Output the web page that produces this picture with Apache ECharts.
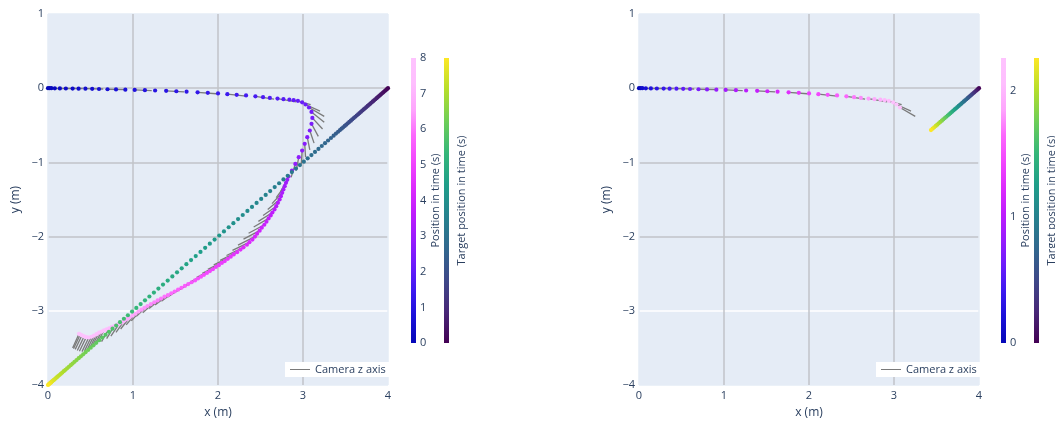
<!DOCTYPE html>
<html>
<head>
<meta charset="utf-8">
<script src="https://cdn.jsdelivr.net/npm/echarts@6/dist/echarts.min.js"></script>
<style>
  html, body { margin: 0; padding: 0; background: #fff; }
  #chart { width: 1055px; height: 421px; }
</style>
</head>
<body>
<div id="chart"></div>
<script>
// camera trajectory samples (time in s, position in m)
var posT = [
  0.00, 0.06, 0.13, 0.19, 0.25, 0.31, 0.38, 0.44, 0.50, 0.57,
  0.63, 0.69, 0.75, 0.82, 0.88, 0.94, 1.00, 1.07, 1.13, 1.19,
  1.26, 1.32, 1.38, 1.44, 1.51, 1.57, 1.63, 1.70, 1.76, 1.82,
  1.88, 1.95, 2.01, 2.07, 2.14, 2.20, 2.26, 2.32, 2.39, 2.45,
  2.51, 2.57, 2.64, 2.70, 2.76, 2.83, 2.89, 2.95, 3.01, 3.08,
  3.14, 3.20, 3.27, 3.33, 3.39, 3.45, 3.52, 3.58, 3.64, 3.71,
  3.77, 3.83, 3.89, 3.96, 4.02, 4.08, 4.14, 4.21, 4.27, 4.33,
  4.40, 4.46, 4.52, 4.58, 4.65, 4.71, 4.77, 4.84, 4.90, 4.96,
  5.02, 5.09, 5.15, 5.21, 5.28, 5.34, 5.40, 5.46, 5.53, 5.59,
  5.65, 5.71, 5.78, 5.84, 5.90, 5.97, 6.03, 6.09, 6.15, 6.22,
  6.28, 6.34, 6.41, 6.47, 6.53, 6.59, 6.66, 6.72, 6.78, 6.85,
  6.91, 6.97, 7.03, 7.10, 7.16, 7.22, 7.28, 7.35, 7.41, 7.47,
  7.54, 7.60, 7.66, 7.72, 7.79, 7.85, 7.91, 7.98
];
var posX = [
  0, 0.02, 0.04, 0.08, 0.14, 0.21, 0.29, 0.36, 0.44, 0.52,
  0.60, 0.70, 0.80, 0.91, 1.02, 1.14, 1.26, 1.39, 1.51, 1.63,
  1.76, 1.88, 2.00, 2.11, 2.22, 2.33, 2.44, 2.53, 2.61, 2.70,
  2.77, 2.84, 2.89, 2.94, 2.99, 3.03, 3.07,
  3.10, 3.11, 3.10, 3.08, 3.05, 3.02, 2.99, 2.95, 2.91, 2.87, 2.83,
  2.815, 2.80, 2.785, 2.77, 2.755, 2.74, 2.725, 2.705, 2.685, 2.665,
  2.64, 2.62, 2.595, 2.57, 2.545, 2.515, 2.49, 2.46, 2.435, 2.405,
  2.37, 2.34, 2.30, 2.265, 2.225, 2.185,
  2.15, 2.115, 2.08, 2.045, 2.01, 1.975, 1.94, 1.905, 1.87, 1.835,
  1.80, 1.765, 1.73, 1.69, 1.65, 1.61, 1.57, 1.53, 1.49, 1.45,
  1.41, 1.37, 1.33, 1.29, 1.25, 1.21, 1.17, 1.135, 1.10, 1.065,
  1.03, 0.995,
  0.96, 0.93, 0.90, 0.87, 0.84, 0.81, 0.78, 0.75, 0.72, 0.69,
  0.66, 0.63, 0.60, 0.57, 0.54, 0.51, 0.48, 0.45, 0.425, 0.40,
  0.38, 0.365
];
var posY = [
  0, 0, 0, -0.002, -0.003, -0.004, -0.005, -0.006, -0.007, -0.009,
  -0.011, -0.014, -0.017, -0.020, -0.023, -0.027, -0.031, -0.036, -0.041, -0.047,
  -0.055, -0.063, -0.071, -0.080, -0.089, -0.098, -0.110, -0.121, -0.131, -0.140,
  -0.148, -0.155, -0.162, -0.170, -0.190, -0.220, -0.260,
  -0.32, -0.40, -0.48, -0.57, -0.66, -0.75, -0.84, -0.93, -1.02, -1.11, -1.19,
  -1.235, -1.275, -1.32, -1.365, -1.41, -1.455, -1.50, -1.545, -1.59, -1.635,
  -1.675, -1.715, -1.755, -1.80, -1.84, -1.88, -1.92, -1.96, -2.00, -2.04,
  -2.075, -2.11, -2.145, -2.175, -2.21, -2.24,
  -2.27, -2.30, -2.33, -2.355, -2.385, -2.41, -2.44, -2.465, -2.49, -2.515,
  -2.54, -2.565, -2.59, -2.615, -2.64, -2.665, -2.69, -2.715, -2.74, -2.765,
  -2.79, -2.81, -2.835, -2.86, -2.885, -2.91, -2.935, -2.96, -2.985, -3.01,
  -3.04, -3.065,
  -3.09, -3.11, -3.13, -3.155, -3.17, -3.19, -3.205, -3.22, -3.235, -3.25,
  -3.265, -3.28, -3.295, -3.315, -3.335, -3.35, -3.36, -3.355, -3.345, -3.33,
  -3.32, -3.31
];

// camera z axis (projected on xy), given for some samples
var camIdx = [2, 5, 8, 11, 14, 17, 20, 23, 26, 29, 32,
  35, 36, 37, 38, 39, 40, 41, 42, 43, 44, 45,
  48, 50, 52, 54, 56, 58, 60, 62, 64, 66, 68, 70, 72, 74, 76, 78, 80, 82, 84, 86, 88, 90, 92, 94, 96, 98, 100, 102, 104,
  106, 108, 110, 112, 114, 116, 117, 118, 119, 120, 121, 122, 123, 124, 125, 126, 127];
var camDX = [0.16, 0.20, 0.21, 0.21, 0.20, 0.21, 0.22, 0.22, 0.22, 0.22, 0.20,
  0.17, 0.18, 0.15, 0.12, 0.08, 0.05, 0.03, 0.01, -0.01, -0.03, -0.05,
  -0.08, -0.10, -0.12, -0.14, -0.155, -0.165, -0.175, -0.185, -0.19, -0.20, -0.20, -0.20, -0.20, -0.20, -0.20, -0.195, -0.19, -0.185, -0.18, -0.175, -0.17, -0.16, -0.155, -0.15, -0.14, -0.135, -0.13, -0.12, -0.11,
  -0.105, -0.10, -0.10, -0.09, -0.09, -0.09, -0.085, -0.085, -0.08, -0.08, -0.08, -0.08, -0.08, -0.08, -0.08, -0.08, -0.075];
var camDY = [0, -0.002, -0.004, -0.006, -0.010, -0.014, -0.020, -0.028, -0.036, -0.045, -0.060,
  -0.09, -0.12, -0.14, -0.15, -0.17, -0.17, -0.17, -0.18, -0.18, -0.18, -0.18,
  -0.16, -0.155, -0.145, -0.135, -0.125, -0.12, -0.115, -0.115, -0.115, -0.115, -0.11, -0.11, -0.11, -0.11, -0.11, -0.11, -0.11, -0.115, -0.115, -0.12, -0.12, -0.125, -0.13, -0.13, -0.135, -0.14, -0.14, -0.15, -0.15,
  -0.155, -0.16, -0.17, -0.17, -0.18, -0.18, -0.185, -0.19, -0.19, -0.19, -0.19, -0.19, -0.19, -0.19, -0.19, -0.19, -0.19];

// target position, same sample times as posT
var tgtX = [
  4.000, 3.987, 3.975, 3.962, 3.948, 3.935, 3.921, 3.908, 3.894, 3.880,
  3.866, 3.851, 3.837, 3.822, 3.807, 3.792, 3.777, 3.761, 3.746, 3.730,
  3.714, 3.698, 3.682, 3.665, 3.649, 3.632, 3.615, 3.597, 3.580, 3.563,
  3.545, 3.527, 3.509, 3.491, 3.473, 3.454, 3.435,
  3.413, 3.388, 3.360, 3.329, 3.295, 3.259, 3.221, 3.182, 3.141, 3.099,
  3.055, 3.010, 2.964, 2.917, 2.869, 2.820, 2.770, 2.719, 2.667, 2.614,
  2.561, 2.508, 2.454, 2.400, 2.346, 2.291, 2.236, 2.181, 2.126, 2.070,
  2.015, 1.960, 1.904, 1.849, 1.794, 1.738, 1.683, 1.628, 1.573, 1.518,
  1.463, 1.408, 1.353, 1.299, 1.246, 1.193, 1.141, 1.090, 1.039, 0.989,
  0.940, 0.893, 0.847, 0.802, 0.759, 0.717, 0.677, 0.639, 0.603, 0.568,
  0.535, 0.503, 0.472, 0.442, 0.414, 0.387, 0.361, 0.336, 0.312, 0.289,
  0.267, 0.246, 0.225, 0.205, 0.186, 0.168, 0.151, 0.135, 0.120, 0.106,
  0.093, 0.081, 0.069, 0.059, 0.049, 0.040, 0.032, 0.024, 0.016, 0.008,
  0.000
];
var tgtY = [
  0.000, -0.013, -0.025, -0.038, -0.052, -0.065, -0.079, -0.092, -0.106, -0.120,
  -0.134, -0.149, -0.163, -0.178, -0.193, -0.208, -0.223, -0.239, -0.254, -0.270,
  -0.286, -0.302, -0.318, -0.335, -0.351, -0.368, -0.385, -0.403, -0.420, -0.437,
  -0.455, -0.473, -0.491, -0.509, -0.527, -0.546, -0.565,
  -0.587, -0.612, -0.640, -0.671, -0.705, -0.741, -0.779, -0.818, -0.859, -0.901,
  -0.945, -0.990, -1.036, -1.083, -1.131, -1.180, -1.230, -1.281, -1.333, -1.386,
  -1.439, -1.492, -1.546, -1.600, -1.654, -1.709, -1.764, -1.819, -1.874, -1.930,
  -1.985, -2.040, -2.096, -2.151, -2.206, -2.262, -2.317, -2.372, -2.427, -2.482,
  -2.537, -2.592, -2.647, -2.701, -2.754, -2.807, -2.859, -2.910, -2.961, -3.011,
  -3.060, -3.107, -3.153, -3.198, -3.241, -3.283, -3.323, -3.361, -3.397, -3.432,
  -3.465, -3.497, -3.528, -3.558, -3.586, -3.613, -3.639, -3.664, -3.688, -3.711,
  -3.733, -3.754, -3.775, -3.795, -3.814, -3.832, -3.849, -3.865, -3.880, -3.894,
  -3.907, -3.919, -3.931, -3.941, -3.951, -3.960, -3.968, -3.976, -3.984, -3.992,
  -4.000
];

var xTicks = [0, 1, 2, 3, 4];
var yTicks = [-4, -3, -2, -1, 0, 1];
var leftTMax = 8;      // full run
var rightTMax = 2.26;  // truncated run

var PLOTLY3 = ['#0508b8', '#1910d8', '#3c19f0', '#6b1cfb', '#981cfd', '#bf1cfd',
  '#dd2bfd', '#f246fe', '#fc67fd', '#fea5fd', '#febefe', '#fec3fe'];
var VIRIDIS = ['#440154', '#482878', '#3e4989', '#31688e', '#26828e', '#1f9e89',
  '#35b779', '#6ece58', '#b5de2b', '#fde725'];

var FONT = 'Open Sans';
var TXT = '#2a3f5f';
var BG = '#e5ecf6';
var GRAY = '#c0c3c8';
var CAM_GRAY = '#7a7a7a';

function trajRows(tMax) {
  var out = [];
  for (var i = 0; i < posT.length; i++) {
    if (posT[i] <= tMax) out.push([posX[i], posY[i], posT[i]]);
  }
  return out;
}
function targetRows(tMax) {
  var out = [];
  for (var i = 0; i < posT.length; i++) {
    if (posT[i] <= tMax) out.push([tgtX[i], tgtY[i], posT[i]]);
  }
  return out;
}
function camLines(tMax) {
  var out = [];
  camIdx.forEach(function (k, j) {
    if (posT[k] > tMax) return;
    out.push({ coords: [[posX[k], posY[k]], [posX[k] + camDX[j], posY[k] + camDY[j]]] });
  });
  return out;
}
function minus(v) { return v < 0 ? '\u2212' + Math.abs(v) : String(v); }
function gradient(colors) {
  var stops = colors.map(function (c, i) { return { offset: i / (colors.length - 1), color: c }; });
  return new echarts.graphic.LinearGradient(0, 1, 0, 0, stops);
}

var plotLefts = [48, 639];
var barLefts = [411, 444, 1001, 1034];

// fixed boxes, no auto shrinking to fit labels
var grids = [];
plotLefts.forEach(function (l) {
  grids.push({ left: l, top: 14, width: 340, height: 371, show: true, backgroundColor: BG, borderWidth: 0, outerBoundsMode: 'none', containLabel: false });
});
barLefts.forEach(function (l) {
  grids.push({ left: l, top: 58, width: 5, height: 285, outerBoundsMode: 'none', containLabel: false });
});

var xAxes = [], yAxes = [];
[0, 1].forEach(function (g) {
  xAxes.push({
    type: 'value', gridIndex: g, min: xTicks[0], max: xTicks[xTicks.length - 1], interval: 1,
    name: 'x (m)', nameLocation: 'middle', nameGap: 22,
    nameTextStyle: { fontFamily: FONT, fontSize: 12, color: TXT },
    axisLine: { show: false }, axisTick: { show: false },
    axisLabel: { fontFamily: FONT, fontSize: 11, color: TXT, margin: 5, formatter: minus },
    splitLine: { show: true, lineStyle: { width: 1.5, color: [BG, GRAY, GRAY, GRAY, BG] } }
  });
  yAxes.push({
    type: 'value', gridIndex: g, min: yTicks[0], max: yTicks[yTicks.length - 1], interval: 1,
    name: 'y (m)', nameLocation: 'middle', nameGap: 26,
    nameTextStyle: { fontFamily: FONT, fontSize: 12, color: TXT },
    axisLine: { show: false }, axisTick: { show: false },
    axisLabel: { fontFamily: FONT, fontSize: 11, color: TXT, margin: 4, formatter: minus },
    splitLine: { show: true, lineStyle: { width: 1.5, color: [BG, '#ffffff', GRAY, GRAY, GRAY, BG] } }
  });
});

// colorbars: position (with ticks) and target (no ticks) for each panel
var bars = [
  { max: leftTMax, colors: PLOTLY3, title: 'Position in time (s)', ticks: true },
  { max: leftTMax, colors: VIRIDIS, title: 'Target position in time (s)', ticks: false },
  { max: rightTMax, colors: PLOTLY3, title: 'Position in time (s)', ticks: true },
  { max: rightTMax, colors: VIRIDIS, title: 'Target position in time (s)', ticks: false }
];
var barSeries = [];
bars.forEach(function (b, k) {
  var g = k + 2;
  xAxes.push({ type: 'category', gridIndex: g, data: ['c'], show: false });
  yAxes.push({
    type: 'value', gridIndex: g, min: 0, max: b.max, interval: 1, position: 'right',
    name: b.title, nameLocation: 'middle', nameRotate: 90, nameGap: b.ticks ? 10 : 7,
    nameTextStyle: { fontFamily: FONT, fontSize: 11, color: TXT },
    axisLine: { show: false }, axisTick: { show: false }, splitLine: { show: false },
    axisLabel: { show: b.ticks, showMaxLabel: b.max % 1 === 0, fontFamily: FONT, fontSize: 11, color: TXT, margin: 4 }
  });
  barSeries.push({
    type: 'bar', xAxisIndex: g, yAxisIndex: g, data: [b.max], barWidth: '100%',
    silent: true, itemStyle: { color: gradient(b.colors) }
  });
});

function camSeries(g, tMax) {
  return {
    name: 'Camera z axis', type: 'lines', coordinateSystem: 'cartesian2d',
    xAxisIndex: g, yAxisIndex: g, data: camLines(tMax), z: 2, silent: true,
    lineStyle: { color: CAM_GRAY, width: 1.3, opacity: 1 }
  };
}
function dotSeries(name, g, rows, z) {
  return {
    name: name, type: 'scatter', xAxisIndex: g, yAxisIndex: g, data: rows,
    symbolSize: 4.2, z: z, silent: true, itemStyle: { opacity: 1 }
  };
}

var series = [
  camSeries(0, leftTMax),
  dotSeries('Position', 0, trajRows(leftTMax), 3),
  dotSeries('Target', 0, targetRows(leftTMax), 4),
  camSeries(1, rightTMax),
  dotSeries('Position', 1, trajRows(rightTMax), 3),
  dotSeries('Target', 1, targetRows(rightTMax), 4)
].concat(barSeries);

function legendAt(left) {
  return {
    left: left, top: 362, selectedMode: false,
    data: [{ name: 'Camera z axis', icon: 'rect', itemStyle: { color: CAM_GRAY, borderWidth: 0 } }],
    backgroundColor: '#ffffff', padding: [2, 4, 2, 5], itemWidth: 20, itemHeight: 1, itemGap: 5,
    itemStyle: { borderWidth: 0 }, lineStyle: { width: 0 },
    textStyle: { fontFamily: FONT, fontSize: 11, color: TXT }
  };
}

var chart = echarts.init(document.getElementById('chart'), null, { renderer: 'canvas' });
chart.setOption({
  animation: false,
  backgroundColor: '#ffffff',
  grid: grids,
  xAxis: xAxes,
  yAxis: yAxes,
  legend: [legendAt(285), legendAt(876)],
  visualMap: [
    { type: 'continuous', show: false, seriesIndex: 1, dimension: 2, min: 0, max: leftTMax, inRange: { color: PLOTLY3 } },
    { type: 'continuous', show: false, seriesIndex: 2, dimension: 2, min: 0, max: leftTMax, inRange: { color: VIRIDIS } },
    { type: 'continuous', show: false, seriesIndex: 4, dimension: 2, min: 0, max: rightTMax, inRange: { color: PLOTLY3 } },
    { type: 'continuous', show: false, seriesIndex: 5, dimension: 2, min: 0, max: rightTMax, inRange: { color: VIRIDIS } }
  ],
  series: series
});
</script>
</body>
</html>
